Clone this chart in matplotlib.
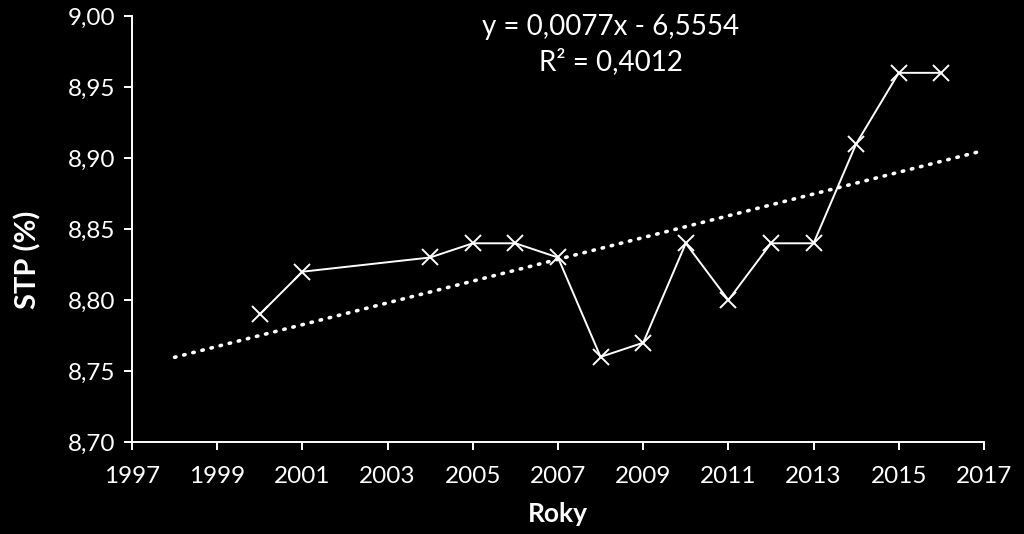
import matplotlib
matplotlib.use("Agg")
import matplotlib.pyplot as plt
import numpy as np

years = [2000, 2001, 2004, 2005, 2006, 2007, 2008, 2009, 2010, 2011, 2012, 2013, 2014, 2015, 2016]
stp = [8.79, 8.82, 8.83, 8.84, 8.84, 8.83, 8.76, 8.77, 8.84, 8.80, 8.84, 8.84, 8.91, 8.96, 8.96]
trend_range = [1998, 2017]
x_ticks = list(range(1997, 2018, 2))
y_ticks = [8.70, 8.75, 8.80, 8.85, 8.90, 8.95, 9.00]
equation = "y = 0,0077x - 6,5554"
r2_text = "R² = 0,4012"

plt.rcParams['font.family'] = ['Lato', 'DejaVu Sans']

fig = plt.figure(figsize=(10.24, 5.34), dpi=100, facecolor='black')
ax = fig.add_axes([0.1289, 0.172, 0.832, 0.798])
ax.set_facecolor('black')

coef = np.polyfit(years, stp, 1)
tx = np.array(trend_range, dtype=float)
ax.plot(tx, np.polyval(coef, tx), color='white', linewidth=2.6,
        linestyle=(0, (0.4, 2.2)), dash_capstyle='round', zorder=2)

ax.plot(years, stp, color='white', linewidth=1.4, marker='x', markersize=11,
        markeredgewidth=1.4, zorder=3)

ax.set_xlim(1997, 2017)
ax.set_ylim(8.70, 9.00)
ax.set_xticks(x_ticks)
ax.set_yticks(y_ticks)
ax.set_xticklabels([str(v) for v in x_ticks])
ax.set_yticklabels([f"{v:.2f}".replace('.', ',') for v in y_ticks])

for s in ['top', 'right']:
    ax.spines[s].set_visible(False)
for s in ['left', 'bottom']:
    ax.spines[s].set_color('white')
    ax.spines[s].set_linewidth(1.4)
ax.tick_params(colors='white', labelsize=17.5, direction='out', length=6, width=1.4)
ax.tick_params(axis='y', pad=6)
ax.tick_params(axis='x', pad=11)

ax.set_xlabel('Roky', color='white', fontsize=19, fontweight='bold', va='center')
ax.xaxis.set_label_coords(0.4995, -0.169)
ax.set_ylabel('STP (%)', color='white', fontsize=21, fontweight='bold', va='center', ha='center')
ax.yaxis.set_label_coords(-0.122, 0.427)

ax.text(0.562, 0.975, equation, transform=ax.transAxes, color='white', fontsize=20,
        ha='center', va='center')
ax.text(0.562, 0.893, r2_text, transform=ax.transAxes, color='white', fontsize=20,
        ha='center', va='center')

fig.savefig('out.png', dpi=100, facecolor='black')
